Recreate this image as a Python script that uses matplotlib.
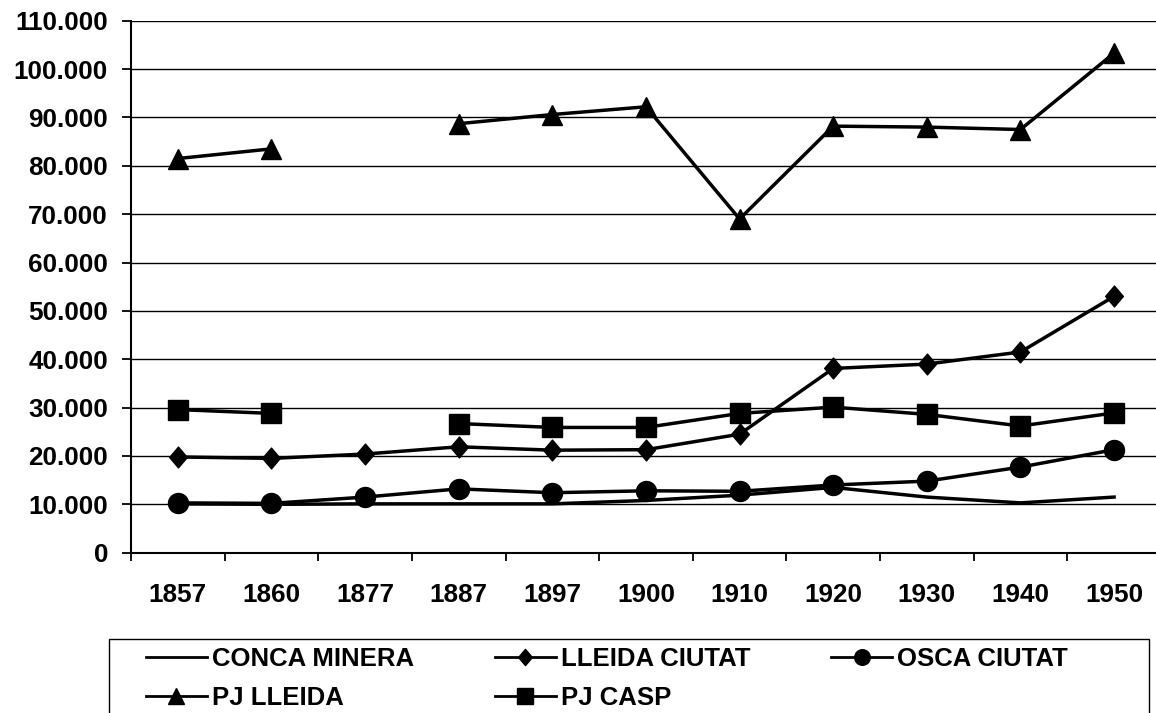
import numpy as np
import matplotlib
matplotlib.use("Agg")
import matplotlib.pyplot as plt
from matplotlib.lines import Line2D
from matplotlib.patches import Rectangle
from matplotlib.path import Path
from matplotlib.ticker import FuncFormatter, MultipleLocator, FixedLocator

plt.rcParams["font.family"] = ["Liberation Sans", "DejaVu Sans"]
plt.rcParams["font.weight"] = "bold"

years = ["1857", "1860", "1877", "1887", "1897", "1900", "1910", "1920", "1930", "1940", "1950"]

conca_minera = [10100, 10000, 10100, 10100, 10100, 10800, 11900, 13500, 11500, 10300, 11500]
lleida_ciutat = [19800, 19500, 20400, 21900, 21200, 21300, 24500, 38100, 39000, 41500, 53000]
osca_ciutat = [10300, 10200, 11500, 13200, 12400, 12800, 12700, 14000, 14800, 17700, 21300]
pj_lleida = [81500, 83500, np.nan, 88700, 90600, 92200, 69000, 88200, 88000, 87500, 103300]
pj_casp = [29600, 28800, np.nan, 26700, 25900, 25900, 28800, 30100, 28600, 26200, 28900]

series_names = ["CONCA MINERA", "LLEIDA CIUTAT", "OSCA CIUTAT", "PJ LLEIDA", "PJ CASP"]

# tall diamond like the spreadsheet marker
diamond = Path([(0, 1), (0.85, 0), (0, -1), (-0.85, 0), (0, 1)],
               [Path.MOVETO, Path.LINETO, Path.LINETO, Path.LINETO, Path.CLOSEPOLY])

styles = [
    dict(marker=None, ms=0),
    dict(marker=diamond, ms=15),
    dict(marker="o", ms=14.4),
    dict(marker="^", ms=15),
    dict(marker="s", ms=14.4),
]

W, H = 1156, 713
fig = plt.figure(figsize=(W / 100, H / 100), dpi=100)
ax = fig.add_axes([131 / W, 1 - 552.7 / H, 1029.9 / W, 532.0 / H])

x = np.arange(len(years))
for vals, name, st in zip([conca_minera, lleida_ciutat, osca_ciutat, pj_lleida, pj_casp],
                          series_names, styles):
    ax.plot(x, vals, color="black", lw=2.5, marker=st["marker"], ms=st["ms"],
            mfc="black", mec="black", label=name)

ax.set_xlim(-0.5, len(years) - 0.5)
ax.set_ylim(0, 110000)
ax.yaxis.set_major_locator(MultipleLocator(10000))
ax.yaxis.set_major_formatter(FuncFormatter(lambda v, p: f"{int(v):,}".replace(",", ".")))
ax.yaxis.grid(True, color="black", lw=1.0)
ax.set_axisbelow(True)

ax.set_xticks(x)
ax.set_xticklabels(years)
ax.xaxis.set_minor_locator(FixedLocator(np.arange(len(years) + 1) - 0.5))
ax.tick_params(axis="x", which="major", length=0, pad=22, labelsize=18.8)
ax.tick_params(axis="x", which="minor", length=6, width=1.3, direction="out")
ax.tick_params(axis="y", which="major", length=6.5, width=1.3, pad=10, labelsize=18.8)
for lab in ax.get_xticklabels() + ax.get_yticklabels():
    lab.set_fontweight("bold")

ax.spines["top"].set_visible(False)
ax.spines["right"].set_visible(False)
ax.spines["left"].set_linewidth(1.5)
ax.spines["bottom"].set_linewidth(1.5)

# legend frame running off the bottom edge
fig.patches.append(Rectangle((109 / W, 1 - 722 / H), 1040 / W, 83 / H,
                             transform=fig.transFigure, fill=False,
                             edgecolor="black", lw=1.0, clip_on=False))

leg_handles = []
for name, st in zip(series_names, styles):
    ms = st["ms"] * 0.78 if st["marker"] is not None else 0
    leg_handles.append(Line2D([], [], color="black", lw=2.0, marker=st["marker"],
                              ms=ms, mfc="black", mec="black", label=name))
order = [0, 3, 1, 4, 2]
fig.legend([leg_handles[i] for i in order], [series_names[i] for i in order],
           ncol=3, loc="upper left", bbox_to_anchor=(146 / W, 1 - 647 / H),
           frameon=False, borderpad=0, borderaxespad=0,
           prop=dict(family="Liberation Sans", weight="bold", size=18.5),
           handlelength=2.37, handletextpad=0.19, columnspacing=3.15,
           labelspacing=0.6)

fig.savefig("out.png", dpi=100)
